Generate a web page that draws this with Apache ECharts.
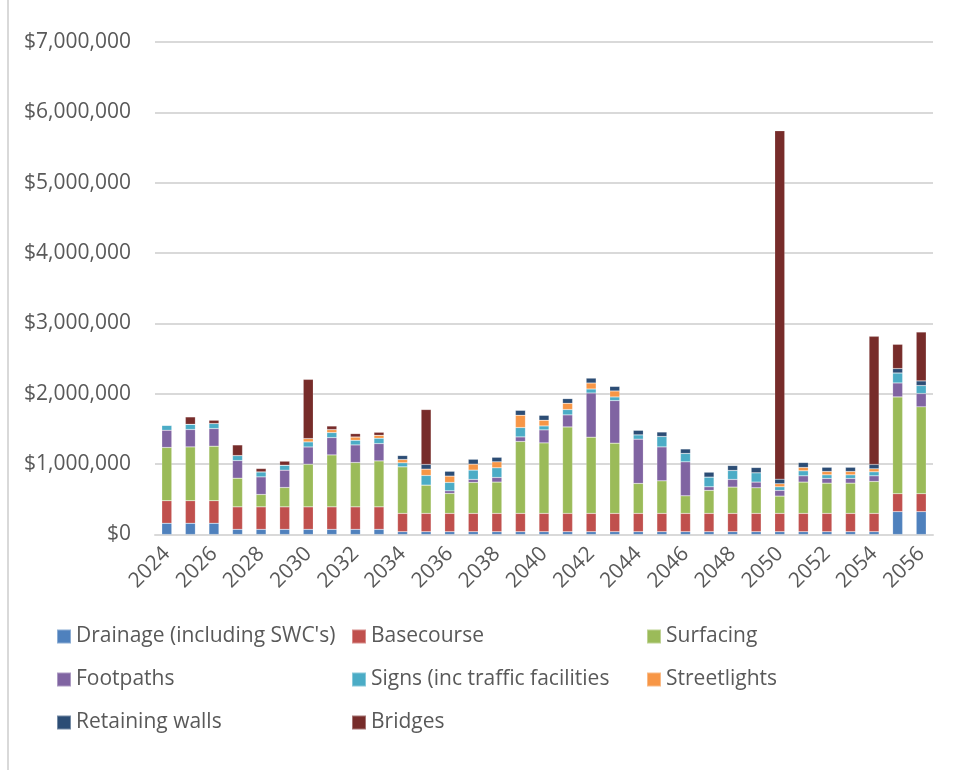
<!DOCTYPE html>
<html>
<head>
<meta charset="utf-8">
<script src="https://cdn.jsdelivr.net/npm/echarts@6/dist/echarts.min.js"></script>
<style>
html,body{margin:0;padding:0;background:#fff;}
#chart{width:962px;height:770px;}
</style>
</head>
<body>
<div id="chart"></div>
<script>
var years = [];
for (var y = 2024; y <= 2056; y++) years.push(String(y));

// values in thousands of dollars
var drainage = [160,160,160,73,73,73,73,73,73,73,40,40,40,40,40,40,40,40,40,40,40,40,40,40,40,40,40,40,40,40,40,325,325];
var basecourse = [320,320,320,320,320,320,320,320,320,320,260,260,260,260,260,260,260,260,260,260,260,260,260,260,260,260,260,260,260,260,260,255,255];
var surfacing = [757,765,775,407,176,275,606,738,630,653,662,402,284,440,445,1022,1002,1229,1083,998,426,463,250,327,374,364,246,445,430,430,454,1376,1234];
var footpaths = [245,247,251,251,250,246,245,246,250,246,0,0,37,43,66,65,185,171,628,605,629,482,483,51,109,81,81,89,67,67,80,198,190];
var signs = [71,75,71,71,71,71,72,72,66,76,57,137,119,132,137,133,56,76,57,52,61,148,119,138,127,132,51,71,51,51,57,142,113];
var streetlights = [0,0,0,0,0,0,47,42,47,42,47,90,90,85,85,175,81,89,85,85,0,0,0,0,0,0,43,48,48,48,43,0,0];
var retaining = [0,0,0,0,0,0,0,0,0,0,57,67,70,71,66,71,71,67,71,66,66,65,65,71,71,76,66,71,61,61,62,62,66];
var bridges = [0,104,47,151,48,57,842,51,48,43,0,780,0,0,0,0,0,0,0,0,0,0,0,0,0,0,4951,0,0,0,1820,345,695];

var seriesNames = ["Drainage (including SWC's)","Basecourse","Surfacing","Footpaths","Signs (inc traffic facilities","Streetlights","Retaining walls","Bridges"];
var seriesData = [drainage,basecourse,surfacing,footpaths,signs,streetlights,retaining,bridges];
var colors = ['#4F81BD','#C0504D','#9BBB59','#8064A2','#4BACC6','#F79646','#2C4D75','#772C2A'];

var FONT = 'Open Sans';
var TXT = '#595959';

var chart = echarts.init(document.getElementById('chart'), null, {renderer:'canvas'});

function fmt(v){
  return '$' + String(v).replace(/\B(?=(\d{3})+(?!\d))/g, ',');
}

var series = seriesNames.map(function(n,i){
  return {
    name: n, type: 'bar', stack: 'total', barWidth: 10,
    itemStyle: {color: colors[i], borderColor: 'rgba(255,255,255,0.35)', borderWidth: 0.5},
    data: seriesData[i].map(function(v){return v*1000;})
  };
});

var legendBase = {
  orient: 'vertical', itemWidth: 14, itemHeight: 14, itemGap: 18, icon: 'rect', padding: 0,
  textStyle: {fontFamily: FONT, fontSize: 21, color: TXT, lineHeight: 25},
  selectedMode: false
};

chart.setOption({
  backgroundColor: '#fff',
  animation: false,
  color: colors,
  grid: {left: 155, right: 29, top: 42, bottom: 235.5, containLabel: false},
  xAxis: {
    type: 'category', data: years,
    axisLine: {show: true, lineStyle: {color: '#d9d9d9', width: 2}},
    axisTick: {show: false},
    axisLabel: {interval: 1, rotate: 45, margin: 16, fontFamily: FONT, fontSize: 21, color: TXT}
  },
  yAxis: {
    type: 'value', min: 0, max: 7000000, interval: 1000000,
    axisLine: {show: false}, axisTick: {show: false},
    splitLine: {lineStyle: {color: '#d9d9d9', width: 2}},
    axisLabel: {formatter: fmt, margin: 24, fontFamily: FONT, fontSize: 21, color: TXT}
  },
  legend: [
    Object.assign({}, legendBase, {left: 56, top: 624, data: [seriesNames[0], seriesNames[3], seriesNames[6]]}),
    Object.assign({}, legendBase, {left: 351, top: 624, data: [seriesNames[1], seriesNames[4], seriesNames[7]]}),
    Object.assign({}, legendBase, {left: 646, top: 624, data: [seriesNames[2], seriesNames[5]]})
  ],
  graphic: [
    {type: 'line', shape: {x1: 8, y1: 0, x2: 8, y2: 770}, style: {stroke: '#d9d9d9', lineWidth: 2}}
  ],
  series: series
});
</script>
</body>
</html>
